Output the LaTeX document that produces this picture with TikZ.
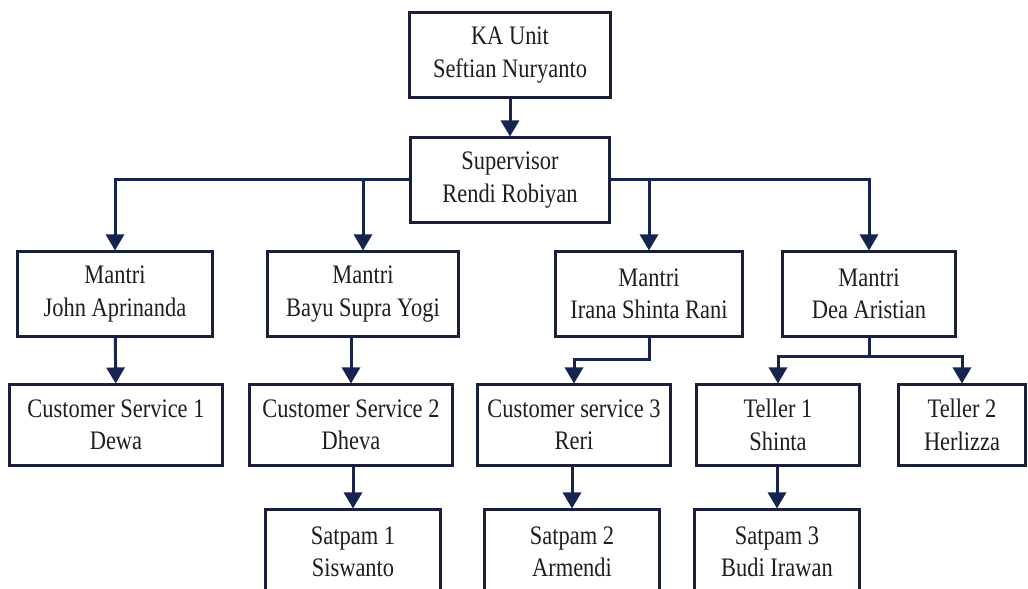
\documentclass[tikz,border=0pt]{standalone}
\usepackage{fontspec}
\setmainfont{Liberation Serif}[FakeStretch=0.84]
\usetikzlibrary{arrows.meta}

\definecolor{navy}{HTML}{16244F}
\definecolor{boxline}{HTML}{1A1F3A}
\definecolor{ink}{HTML}{1E1E1E}

\begin{document}
\begin{tikzpicture}[x=0.025cm,y=-0.025cm,
    box/.style={draw=boxline, line width=0.075cm, minimum height=2.1cm,
        align=center, inner sep=0pt, text=ink,
        font=\fontsize{19}{23}\selectfont},
    arr/.style={draw=navy, line width=0.075cm,
        -{Triangle[width=0.45cm,length=0.4cm]}},
    wire/.style={draw=navy, line width=0.075cm}]

%%% page frame - 1028 x 589 px
\clip (0,0) rectangle (1028,589);
\fill[white] (0,0) rectangle (1028,589);

%% Top
\node[box, minimum width=5cm] (ka) at (510,55) {KA Unit\\Seftian Nuryanto};
\node[box, minimum width=4.95cm] (sup) at (510,180) {Supervisor\\Rendi Robiyan};

%% Mantri row
\node[box, minimum width=4.85cm] (m1) at (115,294) {Mantri\\John Aprinanda};
\node[box, minimum width=4.75cm] (m2) at (363,294) {Mantri\\Bayu Supra Yogi};
\node[box, minimum width=4.65cm] (m3) at (649,294) {Mantri\\Irana Shinta Rani};
\node[box, minimum width=4.3cm] (m4) at (869,294) {Mantri\\Dea Aristian};

%% Customer service / teller row
\node[box, minimum width=5.3cm, minimum height=2cm] (cs1) at (116,425) {Customer Service 1\\Dewa};
\node[box, minimum width=5.05cm, minimum height=2cm] (cs2) at (351,425) {Customer Service 2\\Dheva};
\node[box, minimum width=4.8cm, minimum height=2cm] (cs3) at (574,425) {Customer service 3\\Reri};
\node[box, minimum width=4.075cm, minimum height=2cm] (t1) at (778,425) {Teller 1\\Shinta};
\node[box, minimum width=3.15cm, minimum height=2cm] (t2) at (962,425) {Teller 2\\Herlizza};

%% Satpam row (cut off by the page bottom)
\node[box, minimum width=4.35cm] (s1) at (353,552) {Satpam 1\\Siswanto};
\node[box, minimum width=4.375cm] (s2) at (572,552) {Satpam 2\\Armendi};
\node[box, minimum width=4.125cm] (s3) at (777,552) {Satpam 3\\Budi Irawan};

%% Connectors
\draw[arr] (ka) -- (sup);
\draw[arr] (sup.west) -| (m1.north);
\draw[arr] (sup.east) -| (m4.north);
\draw[arr] (m2.north |- sup.west) -- (m2.north);
\draw[arr] (m3.north |- sup.east) -- (m3.north);

\draw[arr] (m1) -- (cs1);
\draw[arr] (cs2.north |- m2.south) -- (cs2.north);
\draw[arr] (m3.south) -- ++(0,22) -| (cs3.north);
\draw[wire] (m4.south) -- ++(0,19) coordinate (split);
\draw[arr] (split) -| (t1.north);
\draw[arr] (split) -| (t2.north);

\draw[arr] (s1.north |- cs2.south) -- (s1.north);
\draw[arr] (s2.north |- cs3.south) -- (s2.north);
\draw[arr] (s3.north |- t1.south) -- (s3.north);
\end{tikzpicture}
\end{document}
